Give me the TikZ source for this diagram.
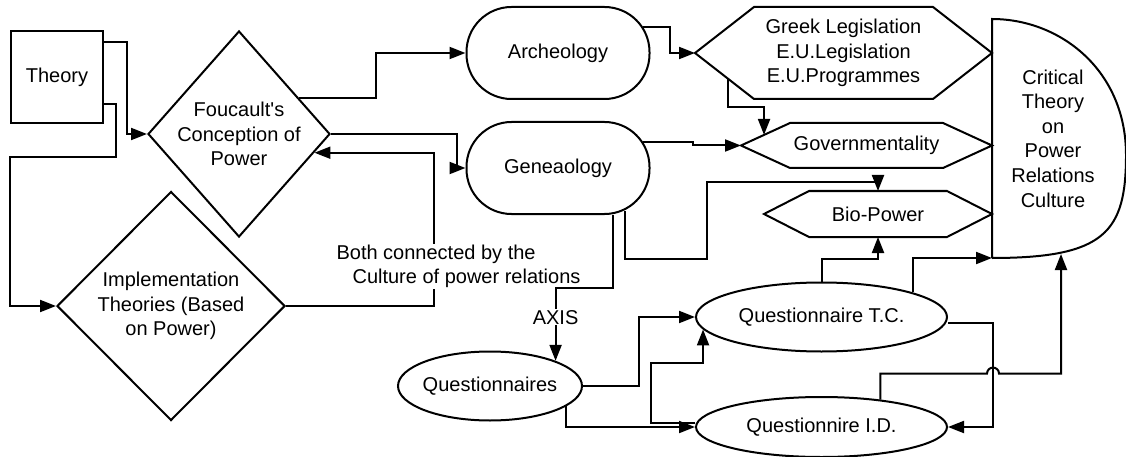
\documentclass[tikz,border=0pt]{standalone}
\usepackage{fontspec}
\setmainfont{Liberation Sans}
\usetikzlibrary{arrows.meta}
\usetikzlibrary{calc}
\usetikzlibrary{shapes.geometric}

\begin{document}
\begin{tikzpicture}[
  x = 1pt, y = -1pt,
  every node/.style = {font=\fontsize{20}{24.6}\selectfont, align=center},
     box/.style = {draw, line width=2pt, minimum width=92pt, minimum height=92pt},
  decide/.style = {draw, diamond, line width=2pt, inner sep=0pt},
 stadium/.style = {draw, line width=2pt, rounded corners=45pt,
                   minimum width=183pt, minimum height=92pt},
    hexa/.style = {outer sep=0pt, inner sep=0pt},
    oval/.style = {draw, ellipse, line width=2pt, inner sep=0pt},
    link/.style = {line width=2pt, -{Triangle[length=16pt, width=12pt]}},
     tag/.style = {fill=white, inner sep=1pt}
                   ]
\useasboundingbox (0,0) rectangle (1126,457);

\node[box] (theory) at (57,77) {Theory};
\node[decide, aspect=0.9, minimum width=182pt, minimum height=206pt] (foucault) at (239,134)
    {Foucault\textquotesingle s\\Conception of\\Power};
\node[decide, aspect=1, minimum width=228pt, minimum height=229pt] (impl) at (171,306)
    {Implementation\\Theories (Based\\on Power)};
\node[stadium] (arch) at (558,53) {Archeology};
\node[stadium] (gene) at (558,168) {Geneaology};
\node[hexa, minimum width=297pt, minimum height=92pt] (legis) at (843.5,53)
    {Greek Legislation\\E.U.Legislation\\E.U.Programmes};
\node[hexa, minimum width=251pt, minimum height=45pt] (govern) at (866.5,145.5) {Governmentality};
\node[hexa, minimum width=228pt, minimum height=46pt] (bio) at (878,214) {Bio-Power};
\node[hexa, minimum width=122pt, minimum height=239pt] (critical) at (1053,138.5)
    {Critical\\Theory\\on\\Power\\Relations\\Culture};
\node[oval, inner xsep=-4pt, minimum width=184pt, minimum height=69pt] (quest) at (490,386) {Questionnaires};
\node[oval, minimum width=251pt, minimum height=69pt] (tc) at (821.5,317) {Questionnaire T.C.};
\node[oval, minimum width=251pt, minimum height=60pt] (id) at (821.5,427) {Questionnire I.D.};

\foreach \n/\d in {legis/59, govern/49, bio/45}
  \draw[line width=2pt] (\n.west) -- ([xshift=\d pt]\n.north west) -- ([xshift=-\d pt]\n.north east)
    -- (\n.east) -- ([xshift=-\d pt]\n.south east) -- ([xshift=\d pt]\n.south west) -- cycle;
\draw[line width=2pt] (critical.south west) -- (critical.north west)
  .. controls (1060,19) and (1126,70) .. (1126,155)
  .. controls (1126,232) and (1105,258) .. (critical.south west);

\draw[link] ([yshift=35pt]theory.east) -- ++(23,0) |- (foucault.west);
\draw[link] ([yshift=-27pt]theory.east) -- ++(12,0) -- ++(0,53) -| ([xshift=-46pt]impl.west) -- (impl.west);
\draw[link] ($(foucault.north)!0.65!(foucault.east)$) -- ++(77,0) |- (arch.west);
\draw[link] (foucault.east) -- ++(126,0) |- (gene.west);
\draw[link] (impl.east) -- ++(148,0) |- node[tag, pos=0.13, xshift=24.5pt, align=left] (both)
    {Both connected by the\\\hspace*{16pt}Culture of power relations}
    ($(foucault.east)!0.18!(foucault.south)$);
\draw[link] ([xshift=-8pt, yshift=26pt]arch.east) -- ++(27,0) |- (legis.west);
\draw[link] ($(legis.west)!0.56!([xshift=59pt]legis.south west)$) -- ++(0,28)
    -| ($(govern.west)!0.47!([xshift=49pt]govern.north west)$);
\draw[link] ([xshift=-8pt, yshift=26pt]gene.east) -- ++(50,0) |- (govern.west);
\draw[link] ([xshift=67pt, yshift=4pt]gene.south) -- ++(0,48) -| ++(82,-77) -| (bio.north);
\draw[link] ([xshift=55pt]gene.south) -- ++(0,73) -| node[tag, pos=0.7] (axis) {AXIS} (quest.21);
\draw[link] (quest.east) -- ++(56,0) |- (tc.west);
\draw[link] (quest.-15.5) |- (id.west);
\draw[link] ([yshift=4pt]id.west) -- ++(-44,0) -- ++(0,-60) -| (tc.186);
\draw[link] (tc.north) -- ++(0,-23) -| (bio.south);
\draw[link] (tc.15) |- (critical.south west);
\draw[link] ([yshift=-6pt]tc.east) -- ++(45,0) coordinate (turn) |- (id.east);
\draw[link] (id.25) -- ++(0,-26) coordinate (rise) -- ($(rise -| turn)+(-6,0)$)
    arc[start angle=180, end angle=0, radius=6pt] -| ([xshift=8pt, yshift=4pt]critical.south);
\end{tikzpicture}
\end{document}
